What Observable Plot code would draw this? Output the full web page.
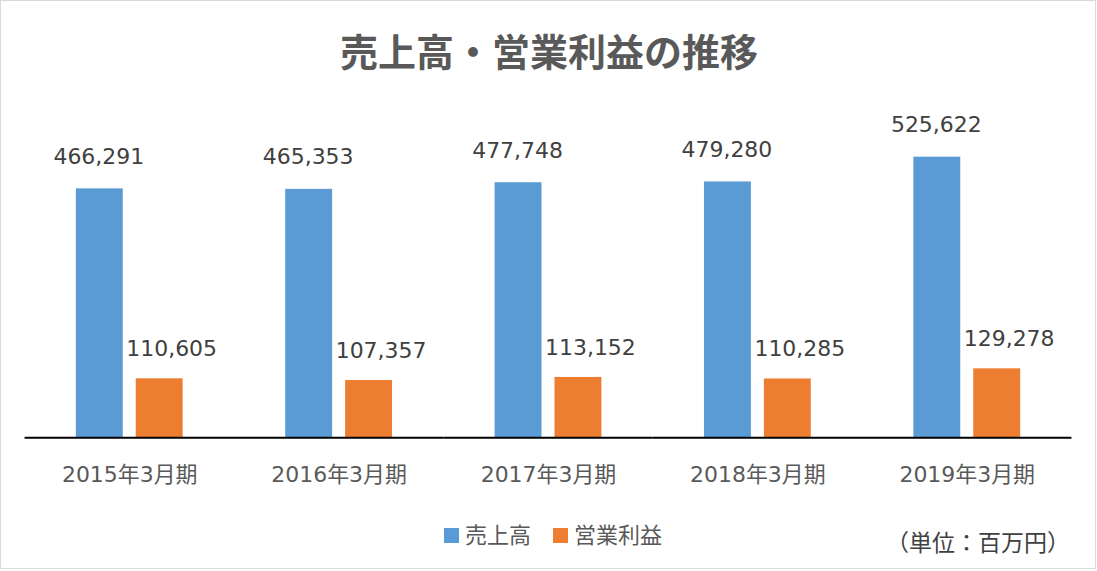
<!DOCTYPE html>
<html>
<head>
<meta charset="utf-8">
<script src="https://cdn.jsdelivr.net/npm/d3@7"></script>
<script src="https://cdn.jsdelivr.net/npm/@observablehq/plot@0.6"></script>
<style>
  html, body { margin: 0; padding: 0; background: #fff; }
  #frame {
    position: absolute; left: 0; top: 0; width: 1096px; height: 569px;
    box-sizing: border-box; border: 1px solid #d9d9d9; background: #fff;
    font-family: "DejaVu Sans", "Noto Sans CJK JP", sans-serif;
  }
  #title {
    position: absolute; left: 0; width: 1096px; top: 22px; text-align: center;
    font-family: "Noto Sans CJK JP", sans-serif; font-weight: bold; font-size: 38px;
    color: #595959; line-height: 54px;
  }
  #chart { position: absolute; left: 0; top: 90px; }
  #legend {
    position: absolute; top: 518px; left: 443px; display: flex;
    font-family: "Noto Sans CJK JP", sans-serif; font-size: 22px; color: #595959; line-height: 28px;
  }
  .item { display: flex; align-items: center; margin-right: 22px; }
  .sw { width: 15px; height: 15px; margin-right: 6px; margin-top: 4px; }
  #unit {
    position: absolute; left: 885px; top: 525px; font-family: "Noto Sans CJK JP", sans-serif;
    font-size: 23px; color: #404040; line-height: 30px;
  }
</style>
</head>
<body>
<div id="frame">
  <div id="title"></div>
  <div id="chart"></div>
  <div id="legend"></div>
  <div id="unit"></div>
</div>
<script>
const titleText = "売上高・営業利益の推移";
const categories = ["2015年3月期", "2016年3月期", "2017年3月期", "2018年3月期", "2019年3月期"];
const seriesNames = ["売上高", "営業利益"];
const sales = [466291, 465353, 477748, 479280, 525622];
const profit = [110605, 107357, 113152, 110285, 129278];
const colors = ["#5B9BD5", "#ED7D31"];
const unitText = "（単位：百万円）";

const data = [];
categories.forEach((c, i) => {
  data.push({category: c, series: seriesNames[0], value: sales[i]});
  data.push({category: c, series: seriesNames[1], value: profit[i]});
});

document.getElementById("title").textContent = titleText;
document.getElementById("unit").textContent = unitText;

const fmt = d3.format(",");
const chart = Plot.plot({
  width: 1096,
  height: 410,
  marginLeft: 23.6,
  marginRight: 23.6,
  marginTop: 26,
  marginBottom: 63,
  style: {fontFamily: "'DejaVu Sans', 'Noto Sans CJK JP', sans-serif", background: "transparent"},
  fx: {domain: categories, paddingInner: 0, paddingOuter: 0, round: false, label: null},
  x: {domain: seriesNames, paddingInner: 0.2167, paddingOuter: 0.8562, round: false, axis: null},
  y: {domain: [0, 600000], axis: null},
  color: {domain: seriesNames, range: colors},
  marks: [
    Plot.barY(data, {fx: "category", x: "series", y: "value", fill: "series"}),
    Plot.ruleY([0], {stroke: "#000", strokeWidth: 2}),
    Plot.text(data.filter(d => d.series === seriesNames[0]), {
      fx: "category", x: "series", y: "value", text: d => fmt(d.value),
      dy: -32, dx: -1, fontSize: 22, fill: "#404040"
    }),
    Plot.text(data.filter(d => d.series === seriesNames[1]), {
      fx: "category", x: "series", y: "value", text: d => fmt(d.value),
      dy: -30, dx: 12, fontSize: 22, fill: "#404040"
    }),
    Plot.axisFx({anchor: "bottom", tickSize: 0, tickPadding: 29, fontSize: 22, fill: "#595959", label: null})
  ]
});
document.getElementById("chart").appendChild(chart);

const legend = document.getElementById("legend");
seriesNames.forEach((s, i) => {
  const it = document.createElement("div");
  it.className = "item";
  const sw = document.createElement("div");
  sw.className = "sw";
  sw.style.background = colors[i];
  const t = document.createElement("span");
  t.textContent = s;
  it.appendChild(sw); it.appendChild(t);
  legend.appendChild(it);
});
</script>
</body>
</html>
